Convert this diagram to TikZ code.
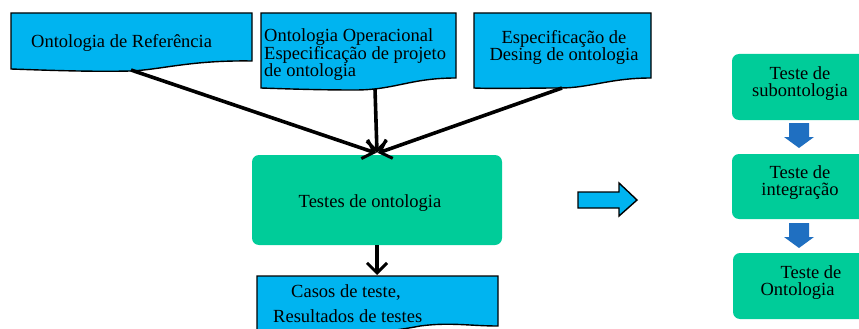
\documentclass[tikz,border=0pt]{standalone}
\usepackage{fontspec}
\setmainfont{Liberation Serif}
\usetikzlibrary{arrows.meta}
\definecolor{docblue}{HTML}{00B4F0}
\definecolor{boxgreen}{HTML}{00CC99}
\definecolor{arrblue}{HTML}{1F6FC1}
\tikzset{
  docshape/.style={draw=black, line width=1.4pt, fill=docblue, line join=miter},
  greenbox/.style={fill=boxgreen, rounded corners=7pt, inner sep=0pt},
  txt/.style={inner sep=0pt, font=\fontsize{18.5}{16.5}\selectfont},
  rtxt/.style={font=\fontsize{18.5}{17}\selectfont},
  conn/.style={line width=3.6pt, -{Straight Barb[length=10pt,width=20pt,line width=3pt]}},
  blockarrow/.style={fill=docblue, draw=black, line width=1.4pt},
  downarrow/.style={fill=arrblue, draw=none}
}
\begin{document}
\begin{tikzpicture}[x=1pt,y=-1pt]
\useasboundingbox (0,0) rectangle (859,329);
\clip (0,0) rectangle (859,329);
% document 1
\draw[docshape] (11,13) -- (252,13) -- (252,61)
  .. controls (190,60) and (160,70) .. (130,71)
  .. controls (90,72) and (40,70) .. (11,69) -- cycle;
\coordinate (d1) at (131,70);
\node[txt, anchor=base west] (t1) at (31,48) {Ontologia de Referência};
% document 2
\draw[docshape] (261,13) -- (456,13) -- (456,78)
  .. controls (410,78) and (395,90) .. (355,90)
  .. controls (320,90) and (290,89) .. (261,88) -- cycle;
\coordinate (d2) at (375,89);
\node[txt, anchor=north west, align=left] (t2) at (264,28) {Ontologia Operacional\\Especificação de projeto\\de ontologia};
% document 3
\draw[docshape] (474,13) -- (651,13) -- (651,78)
  .. controls (610,78) and (590,88) .. (560,88)
  .. controls (525,88) and (500,89) .. (474,88) -- cycle;
\coordinate (d3) at (562,88);
\node[txt, anchor=north, align=center] (t3) at (564,30) {Especificação de\\Desing de ontologia};
% main box
\node[greenbox, minimum width=250pt, minimum height=90pt] (main) at (377,200) {};
\node[txt, anchor=base] (mt) at (370,207) {Testes de ontologia};
% bottom document
\draw[docshape] (257,276) -- (498,276) -- (498,326)
  .. controls (470,326) and (450,322) .. (420,326)
  .. controls (380,334) and (300,340) .. (257,340) -- cycle;
\node[txt, anchor=base west] (b1) at (291,297) {Casos de teste,};
\node[txt, anchor=base west] (b2) at (273,322) {Resultados de testes};
% connectors
\coordinate (m1) at (376,153);
\coordinate (m2) at (377,153);
\coordinate (m3) at (378,153);
\coordinate (bt) at (377,275);
\draw[conn] (d1) -- (m1);
\draw[conn] (d2) -- (m2);
\draw[conn] (d3) -- (m3);
\draw[conn] (main.south -| bt) -- (bt);
% block arrow
\draw[blockarrow] (578,192) -- (619,192) -- (619,183) -- (637,200) -- (619,216) -- (619,208) -- (578,208) -- cycle;
% right column
\node[greenbox, rtxt, align=center, minimum width=136pt, minimum height=66pt, text depth=11pt] (r1) at (800,87) {Teste de\\subontologia};
\node[greenbox, rtxt, align=center, minimum width=136pt, minimum height=65pt, text depth=11pt] (r2) at (800,186.5) {Teste de\\integração};
\node[greenbox, rtxt, align=left, minimum width=136pt, minimum height=66pt, text depth=11pt] (r3) at (801,286) {\hspace*{20pt}Teste de\\Ontologia};
% blue down arrows
\fill[downarrow] (789,123) -- (809,123) -- (809,137) -- (814,137) -- (799,148) -- (784,137) -- (789,137) -- cycle;
\fill[downarrow] (789,223) -- (809,223) -- (809,237) -- (814,237) -- (799,248) -- (784,237) -- (789,237) -- cycle;
\end{tikzpicture}
\end{document}
